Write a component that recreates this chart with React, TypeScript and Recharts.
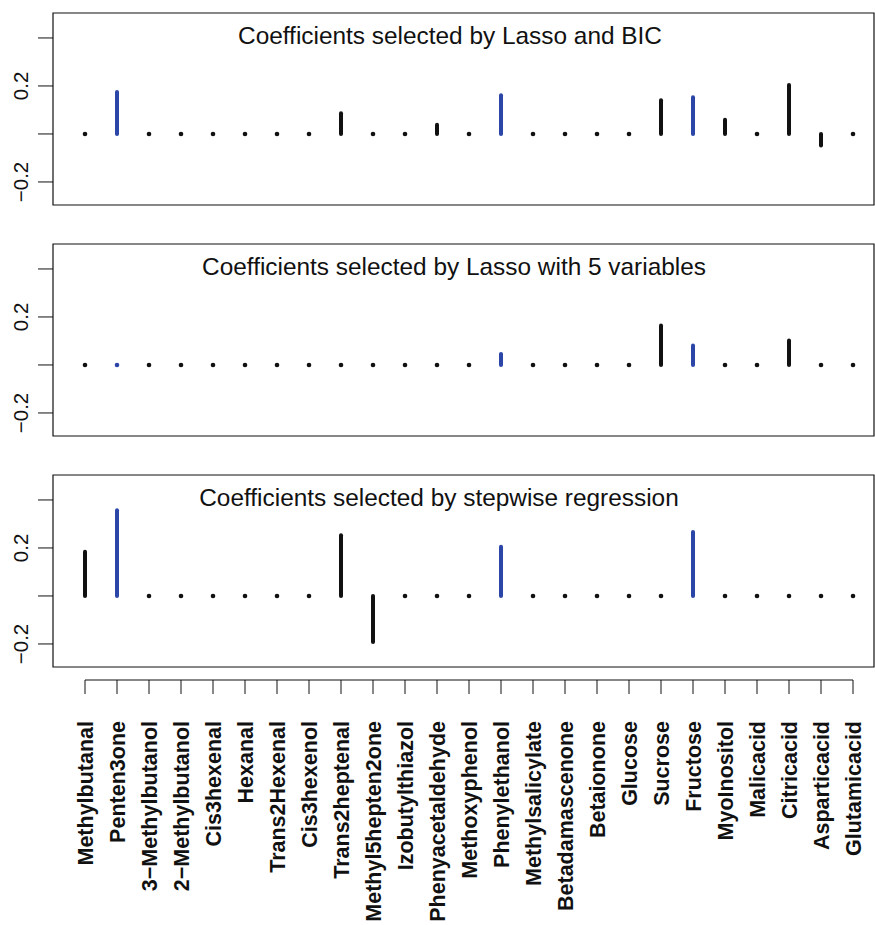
import React from 'react';
import { ComposedChart, Bar, XAxis, YAxis, ReferenceArea } from 'recharts';

const variables = [
  'Methylbutanal', 'Penten3one', '3\u2212Methylbutanol', '2\u2212Methylbutanol', 'Cis3hexenal',
  'Hexanal', 'Trans2Hexenal', 'Cis3hexenol', 'Trans2heptenal', 'Methyl5hepten2one',
  'Izobutylthiazol', 'Phenyacetaldehyde', 'Methoxyphenol', 'Phenylethanol', 'Methylsalicylate',
  'Betadamascenone', 'Betaionone', 'Glucose', 'Sucrose', 'Fructose',
  'MyoInositol', 'Malicacid', 'Citricacid', 'Asparticacid', 'Glutamicacid',
];
const blueVariables = ['Penten3one', 'Phenylethanol', 'Fructose'];

const lassoBicCoefs = [
  0, 0.175, 0, 0, 0, 0, 0, 0, 0.086, 0, 0, 0.038, 0, 0.161, 0, 0, 0, 0,
  0.14, 0.153, 0.059, 0, 0.204, -0.048, 0,
];
const lasso5Coefs = [
  0, 0, 0, 0, 0, 0, 0, 0, 0, 0, 0, 0, 0, 0.046, 0, 0, 0, 0,
  0.164, 0.081, 0, 0, 0.102, 0, 0,
];
const stepwiseCoefs = [
  0.184, 0.357, 0, 0, 0, 0, 0, 0, 0.253, -0.192, 0, 0, 0, 0.205, 0, 0, 0, 0,
  0, 0.267, 0, 0, 0, 0, 0,
];

const panelTitles = [
  'Coefficients selected by Lasso and BIC',
  'Coefficients selected by Lasso with 5 variables',
  'Coefficients selected by stepwise regression',
];
const yTicks = [-0.2, 0, 0.2, 0.4];
const yTickLabels = ['\u22120.2', '', '0.2', ''];

const X_DOMAIN: [number, number] = [0, 25.656];
const Y_DOMAIN: [number, number] = [-0.296, 0.504];
const FONT = '"Liberation Sans", Arial, Helvetica, sans-serif';
const BLACK = '#111111';
const BLUE = '#2c46a8';

const toRows = (coefs: number[]) =>
  variables.map((name, i) => ({ idx: i + 1, name, coef: coefs[i] }));

// vertical stick from 0 to the coefficient, a dot when it is zero
const Stick = (props: any) => {
  const { x, y, width, height, payload } = props;
  const cx = x + width / 2;
  const color = blueVariables.includes(payload.name) ? BLUE : BLACK;
  if (!height || Math.abs(height) < 0.5) {
    return <circle cx={cx} cy={y} r={2.3} fill={color} />;
  }
  return (
    <line x1={cx} x2={cx} y1={y} y2={y + height} stroke={color} strokeWidth={4} strokeLinecap="round" />
  );
};

const YTick = ({ x, y, payload }: any) => {
  const label = yTickLabels[yTicks.indexOf(payload.value)];
  if (!label) return null;
  const tx = x - 10;
  return (
    <text x={tx} y={y} transform={`rotate(-90 ${tx} ${y})`} textAnchor="middle"
      fontSize={20.5} fontFamily={FONT} fill={BLACK}>
      {label}
    </text>
  );
};

const VarTick = ({ x, y, payload, index }: any) => {
  const name = variables[payload.value - 1];
  const half = 16;
  const ay = y + 13;
  const tx = x + 8;
  const ty = y + 54;
  return (
    <g>
      <line x1={index === 0 ? x : x - half} x2={index === variables.length - 1 ? x : x + half}
        y1={ay} y2={ay} stroke={BLACK} strokeWidth={1} />
      <line x1={x} x2={x} y1={ay} y2={ay + 14} stroke={BLACK} strokeWidth={1} />
      <text x={tx} y={ty} transform={`rotate(-90 ${tx} ${ty})`} textAnchor="end"
        fontSize={21.5} fontWeight="bold" fontFamily={FONT} fill={BLACK}>
        {name}
      </text>
    </g>
  );
};

const CoefPanel = ({ coefs, top, height, showAxis }: { coefs: number[]; top: number; height: number; showAxis: boolean }) => (
  <div style={{ position: 'absolute', left: 0, top, width: 875, height }}>
    <ComposedChart width={875} height={height} data={toRows(coefs)}
      margin={{ top: 13, right: 1, bottom: showAxis ? 8 : 26, left: 0 }}>
      <XAxis type="number" dataKey="idx" domain={X_DOMAIN} allowDataOverflow
        ticks={variables.map((_, i) => i + 1)} interval={0} hide={!showAxis} height={250}
        tick={<VarTick />} tickLine={false} axisLine={false} tickSize={0} tickMargin={0} />
      <YAxis type="number" domain={Y_DOMAIN} allowDataOverflow ticks={yTicks} interval={0}
        width={53} tickSize={15} tickMargin={0} axisLine={false}
        tickLine={{ stroke: BLACK, strokeWidth: 1 }} tick={<YTick />} />
      <ReferenceArea x1={X_DOMAIN[0]} x2={X_DOMAIN[1]} y1={Y_DOMAIN[0]} y2={Y_DOMAIN[1]}
        fill="none" fillOpacity={0} stroke={BLACK} strokeWidth={1.2} ifOverflow="visible" />
      <Bar dataKey="coef" barSize={4} shape={<Stick />} isAnimationActive={false} />
    </ComposedChart>
  </div>
);

const titleStyle = (center: number, baseline: number): React.CSSProperties => ({
  position: 'absolute',
  left: center,
  top: baseline - 20.6,
  transform: 'translateX(-50%)',
  whiteSpace: 'nowrap',
  fontFamily: FONT,
  fontSize: 24.4,
  lineHeight: '24.4px',
  color: BLACK,
});

export default function App() {
  return (
    <div style={{ position: 'absolute', left: 0, top: 0, width: 875, height: 925, background: '#fff', overflow: 'hidden' }}>
      <CoefPanel coefs={lassoBicCoefs} top={0} height={231} showAxis={false} />
      <CoefPanel coefs={lasso5Coefs} top={231} height={231} showAxis={false} />
      <CoefPanel coefs={stepwiseCoefs} top={462} height={463} showAxis />
      <div style={titleStyle(450, 45)}>{panelTitles[0]}</div>
      <div style={titleStyle(454, 276)}>{panelTitles[1]}</div>
      <div style={titleStyle(439, 507)}>{panelTitles[2]}</div>
    </div>
  );
}
